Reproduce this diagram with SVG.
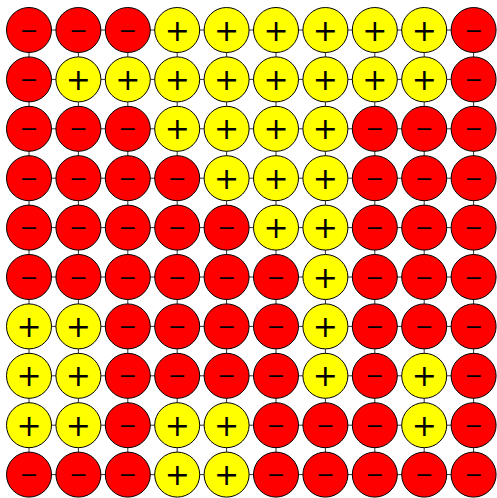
<svg xmlns="http://www.w3.org/2000/svg" width="497" height="498" viewBox="0 0 497 498">
<style>
.e{stroke:#333;stroke-width:1}
.p circle{fill:#ffff00;stroke:#000;stroke-width:1}
.n circle{fill:#ff0000;stroke:#000;stroke-width:1}
text{font-family:"DejaVu Sans",sans-serif;text-anchor:middle;dominant-baseline:central;fill:#000}
.p text{font-size:30px}
.n text{font-size:22px}
</style>
<rect width="497" height="498" fill="#fff"/>
<g id="connectors">
<path class="e" d="M29 30H474M29 79.4H474M29 128.8H474M29 178.2H474M29 227.6H474M29 277H474M29 326.4H474M29 375.8H474M29 425.2H474M29 474.6H474M29 30V474.6M78.4 30V474.6M127.8 30V474.6M177.2 30V474.6M226.6 30V474.6M276 30V474.6M325.4 30V474.6M374.8 30V474.6M424.2 30V474.6M473.6 30V474.6"/>
</g>
<g id="r0">
<g id="n0_0" class="n"><circle cx="29" cy="30" r="22.5"/><text x="29" y="30">−</text></g>
<g id="n0_1" class="n"><circle cx="78.4" cy="30" r="22.5"/><text x="78.4" y="30">−</text></g>
<g id="n0_2" class="n"><circle cx="127.8" cy="30" r="22.5"/><text x="127.8" y="30">−</text></g>
<g id="n0_3" class="p"><circle cx="177.2" cy="30" r="22.5"/><text x="177.2" y="30">+</text></g>
<g id="n0_4" class="p"><circle cx="226.6" cy="30" r="22.5"/><text x="226.6" y="30">+</text></g>
<g id="n0_5" class="p"><circle cx="276" cy="30" r="22.5"/><text x="276" y="30">+</text></g>
<g id="n0_6" class="p"><circle cx="325.4" cy="30" r="22.5"/><text x="325.4" y="30">+</text></g>
<g id="n0_7" class="p"><circle cx="374.8" cy="30" r="22.5"/><text x="374.8" y="30">+</text></g>
<g id="n0_8" class="p"><circle cx="424.2" cy="30" r="22.5"/><text x="424.2" y="30">+</text></g>
<g id="n0_9" class="n"><circle cx="473.6" cy="30" r="22.5"/><text x="473.6" y="30">−</text></g>
</g>
<g id="r1">
<g id="n1_0" class="n"><circle cx="29" cy="79.4" r="22.5"/><text x="29" y="79.4">−</text></g>
<g id="n1_1" class="p"><circle cx="78.4" cy="79.4" r="22.5"/><text x="78.4" y="79.4">+</text></g>
<g id="n1_2" class="p"><circle cx="127.8" cy="79.4" r="22.5"/><text x="127.8" y="79.4">+</text></g>
<g id="n1_3" class="p"><circle cx="177.2" cy="79.4" r="22.5"/><text x="177.2" y="79.4">+</text></g>
<g id="n1_4" class="p"><circle cx="226.6" cy="79.4" r="22.5"/><text x="226.6" y="79.4">+</text></g>
<g id="n1_5" class="p"><circle cx="276" cy="79.4" r="22.5"/><text x="276" y="79.4">+</text></g>
<g id="n1_6" class="p"><circle cx="325.4" cy="79.4" r="22.5"/><text x="325.4" y="79.4">+</text></g>
<g id="n1_7" class="p"><circle cx="374.8" cy="79.4" r="22.5"/><text x="374.8" y="79.4">+</text></g>
<g id="n1_8" class="p"><circle cx="424.2" cy="79.4" r="22.5"/><text x="424.2" y="79.4">+</text></g>
<g id="n1_9" class="n"><circle cx="473.6" cy="79.4" r="22.5"/><text x="473.6" y="79.4">−</text></g>
</g>
<g id="r2">
<g id="n2_0" class="n"><circle cx="29" cy="128.8" r="22.5"/><text x="29" y="128.8">−</text></g>
<g id="n2_1" class="n"><circle cx="78.4" cy="128.8" r="22.5"/><text x="78.4" y="128.8">−</text></g>
<g id="n2_2" class="n"><circle cx="127.8" cy="128.8" r="22.5"/><text x="127.8" y="128.8">−</text></g>
<g id="n2_3" class="p"><circle cx="177.2" cy="128.8" r="22.5"/><text x="177.2" y="128.8">+</text></g>
<g id="n2_4" class="p"><circle cx="226.6" cy="128.8" r="22.5"/><text x="226.6" y="128.8">+</text></g>
<g id="n2_5" class="p"><circle cx="276" cy="128.8" r="22.5"/><text x="276" y="128.8">+</text></g>
<g id="n2_6" class="p"><circle cx="325.4" cy="128.8" r="22.5"/><text x="325.4" y="128.8">+</text></g>
<g id="n2_7" class="n"><circle cx="374.8" cy="128.8" r="22.5"/><text x="374.8" y="128.8">−</text></g>
<g id="n2_8" class="n"><circle cx="424.2" cy="128.8" r="22.5"/><text x="424.2" y="128.8">−</text></g>
<g id="n2_9" class="n"><circle cx="473.6" cy="128.8" r="22.5"/><text x="473.6" y="128.8">−</text></g>
</g>
<g id="r3">
<g id="n3_0" class="n"><circle cx="29" cy="178.2" r="22.5"/><text x="29" y="178.2">−</text></g>
<g id="n3_1" class="n"><circle cx="78.4" cy="178.2" r="22.5"/><text x="78.4" y="178.2">−</text></g>
<g id="n3_2" class="n"><circle cx="127.8" cy="178.2" r="22.5"/><text x="127.8" y="178.2">−</text></g>
<g id="n3_3" class="n"><circle cx="177.2" cy="178.2" r="22.5"/><text x="177.2" y="178.2">−</text></g>
<g id="n3_4" class="p"><circle cx="226.6" cy="178.2" r="22.5"/><text x="226.6" y="178.2">+</text></g>
<g id="n3_5" class="p"><circle cx="276" cy="178.2" r="22.5"/><text x="276" y="178.2">+</text></g>
<g id="n3_6" class="p"><circle cx="325.4" cy="178.2" r="22.5"/><text x="325.4" y="178.2">+</text></g>
<g id="n3_7" class="n"><circle cx="374.8" cy="178.2" r="22.5"/><text x="374.8" y="178.2">−</text></g>
<g id="n3_8" class="n"><circle cx="424.2" cy="178.2" r="22.5"/><text x="424.2" y="178.2">−</text></g>
<g id="n3_9" class="n"><circle cx="473.6" cy="178.2" r="22.5"/><text x="473.6" y="178.2">−</text></g>
</g>
<g id="r4">
<g id="n4_0" class="n"><circle cx="29" cy="227.6" r="22.5"/><text x="29" y="227.6">−</text></g>
<g id="n4_1" class="n"><circle cx="78.4" cy="227.6" r="22.5"/><text x="78.4" y="227.6">−</text></g>
<g id="n4_2" class="n"><circle cx="127.8" cy="227.6" r="22.5"/><text x="127.8" y="227.6">−</text></g>
<g id="n4_3" class="n"><circle cx="177.2" cy="227.6" r="22.5"/><text x="177.2" y="227.6">−</text></g>
<g id="n4_4" class="n"><circle cx="226.6" cy="227.6" r="22.5"/><text x="226.6" y="227.6">−</text></g>
<g id="n4_5" class="p"><circle cx="276" cy="227.6" r="22.5"/><text x="276" y="227.6">+</text></g>
<g id="n4_6" class="p"><circle cx="325.4" cy="227.6" r="22.5"/><text x="325.4" y="227.6">+</text></g>
<g id="n4_7" class="n"><circle cx="374.8" cy="227.6" r="22.5"/><text x="374.8" y="227.6">−</text></g>
<g id="n4_8" class="n"><circle cx="424.2" cy="227.6" r="22.5"/><text x="424.2" y="227.6">−</text></g>
<g id="n4_9" class="n"><circle cx="473.6" cy="227.6" r="22.5"/><text x="473.6" y="227.6">−</text></g>
</g>
<g id="r5">
<g id="n5_0" class="n"><circle cx="29" cy="277" r="22.5"/><text x="29" y="277">−</text></g>
<g id="n5_1" class="n"><circle cx="78.4" cy="277" r="22.5"/><text x="78.4" y="277">−</text></g>
<g id="n5_2" class="n"><circle cx="127.8" cy="277" r="22.5"/><text x="127.8" y="277">−</text></g>
<g id="n5_3" class="n"><circle cx="177.2" cy="277" r="22.5"/><text x="177.2" y="277">−</text></g>
<g id="n5_4" class="n"><circle cx="226.6" cy="277" r="22.5"/><text x="226.6" y="277">−</text></g>
<g id="n5_5" class="n"><circle cx="276" cy="277" r="22.5"/><text x="276" y="277">−</text></g>
<g id="n5_6" class="p"><circle cx="325.4" cy="277" r="22.5"/><text x="325.4" y="277">+</text></g>
<g id="n5_7" class="n"><circle cx="374.8" cy="277" r="22.5"/><text x="374.8" y="277">−</text></g>
<g id="n5_8" class="n"><circle cx="424.2" cy="277" r="22.5"/><text x="424.2" y="277">−</text></g>
<g id="n5_9" class="n"><circle cx="473.6" cy="277" r="22.5"/><text x="473.6" y="277">−</text></g>
</g>
<g id="r6">
<g id="n6_0" class="p"><circle cx="29" cy="326.4" r="22.5"/><text x="29" y="326.4">+</text></g>
<g id="n6_1" class="p"><circle cx="78.4" cy="326.4" r="22.5"/><text x="78.4" y="326.4">+</text></g>
<g id="n6_2" class="n"><circle cx="127.8" cy="326.4" r="22.5"/><text x="127.8" y="326.4">−</text></g>
<g id="n6_3" class="n"><circle cx="177.2" cy="326.4" r="22.5"/><text x="177.2" y="326.4">−</text></g>
<g id="n6_4" class="n"><circle cx="226.6" cy="326.4" r="22.5"/><text x="226.6" y="326.4">−</text></g>
<g id="n6_5" class="n"><circle cx="276" cy="326.4" r="22.5"/><text x="276" y="326.4">−</text></g>
<g id="n6_6" class="p"><circle cx="325.4" cy="326.4" r="22.5"/><text x="325.4" y="326.4">+</text></g>
<g id="n6_7" class="n"><circle cx="374.8" cy="326.4" r="22.5"/><text x="374.8" y="326.4">−</text></g>
<g id="n6_8" class="n"><circle cx="424.2" cy="326.4" r="22.5"/><text x="424.2" y="326.4">−</text></g>
<g id="n6_9" class="n"><circle cx="473.6" cy="326.4" r="22.5"/><text x="473.6" y="326.4">−</text></g>
</g>
<g id="r7">
<g id="n7_0" class="p"><circle cx="29" cy="375.8" r="22.5"/><text x="29" y="375.8">+</text></g>
<g id="n7_1" class="p"><circle cx="78.4" cy="375.8" r="22.5"/><text x="78.4" y="375.8">+</text></g>
<g id="n7_2" class="n"><circle cx="127.8" cy="375.8" r="22.5"/><text x="127.8" y="375.8">−</text></g>
<g id="n7_3" class="n"><circle cx="177.2" cy="375.8" r="22.5"/><text x="177.2" y="375.8">−</text></g>
<g id="n7_4" class="n"><circle cx="226.6" cy="375.8" r="22.5"/><text x="226.6" y="375.8">−</text></g>
<g id="n7_5" class="n"><circle cx="276" cy="375.8" r="22.5"/><text x="276" y="375.8">−</text></g>
<g id="n7_6" class="p"><circle cx="325.4" cy="375.8" r="22.5"/><text x="325.4" y="375.8">+</text></g>
<g id="n7_7" class="n"><circle cx="374.8" cy="375.8" r="22.5"/><text x="374.8" y="375.8">−</text></g>
<g id="n7_8" class="p"><circle cx="424.2" cy="375.8" r="22.5"/><text x="424.2" y="375.8">+</text></g>
<g id="n7_9" class="n"><circle cx="473.6" cy="375.8" r="22.5"/><text x="473.6" y="375.8">−</text></g>
</g>
<g id="r8">
<g id="n8_0" class="p"><circle cx="29" cy="425.2" r="22.5"/><text x="29" y="425.2">+</text></g>
<g id="n8_1" class="p"><circle cx="78.4" cy="425.2" r="22.5"/><text x="78.4" y="425.2">+</text></g>
<g id="n8_2" class="n"><circle cx="127.8" cy="425.2" r="22.5"/><text x="127.8" y="425.2">−</text></g>
<g id="n8_3" class="p"><circle cx="177.2" cy="425.2" r="22.5"/><text x="177.2" y="425.2">+</text></g>
<g id="n8_4" class="p"><circle cx="226.6" cy="425.2" r="22.5"/><text x="226.6" y="425.2">+</text></g>
<g id="n8_5" class="n"><circle cx="276" cy="425.2" r="22.5"/><text x="276" y="425.2">−</text></g>
<g id="n8_6" class="n"><circle cx="325.4" cy="425.2" r="22.5"/><text x="325.4" y="425.2">−</text></g>
<g id="n8_7" class="n"><circle cx="374.8" cy="425.2" r="22.5"/><text x="374.8" y="425.2">−</text></g>
<g id="n8_8" class="p"><circle cx="424.2" cy="425.2" r="22.5"/><text x="424.2" y="425.2">+</text></g>
<g id="n8_9" class="n"><circle cx="473.6" cy="425.2" r="22.5"/><text x="473.6" y="425.2">−</text></g>
</g>
<g id="r9">
<g id="n9_0" class="n"><circle cx="29" cy="474.6" r="22.5"/><text x="29" y="474.6">−</text></g>
<g id="n9_1" class="n"><circle cx="78.4" cy="474.6" r="22.5"/><text x="78.4" y="474.6">−</text></g>
<g id="n9_2" class="n"><circle cx="127.8" cy="474.6" r="22.5"/><text x="127.8" y="474.6">−</text></g>
<g id="n9_3" class="p"><circle cx="177.2" cy="474.6" r="22.5"/><text x="177.2" y="474.6">+</text></g>
<g id="n9_4" class="p"><circle cx="226.6" cy="474.6" r="22.5"/><text x="226.6" y="474.6">+</text></g>
<g id="n9_5" class="n"><circle cx="276" cy="474.6" r="22.5"/><text x="276" y="474.6">−</text></g>
<g id="n9_6" class="n"><circle cx="325.4" cy="474.6" r="22.5"/><text x="325.4" y="474.6">−</text></g>
<g id="n9_7" class="n"><circle cx="374.8" cy="474.6" r="22.5"/><text x="374.8" y="474.6">−</text></g>
<g id="n9_8" class="n"><circle cx="424.2" cy="474.6" r="22.5"/><text x="424.2" y="474.6">−</text></g>
<g id="n9_9" class="n"><circle cx="473.6" cy="474.6" r="22.5"/><text x="473.6" y="474.6">−</text></g>
</g>
</svg>
